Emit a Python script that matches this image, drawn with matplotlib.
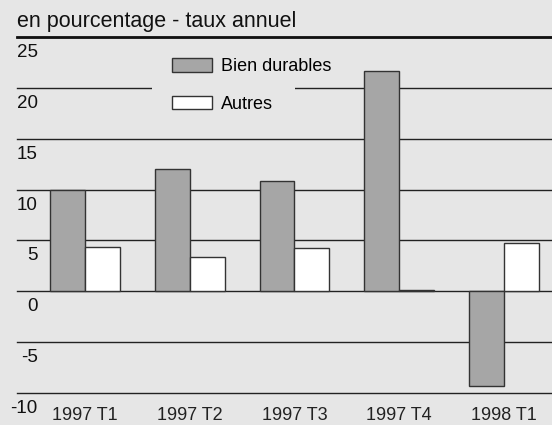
import numpy as np
import matplotlib.pyplot as plt
from matplotlib.patches import Rectangle
from matplotlib.transforms import offset_copy

plt.rcParams['font.family'] = ['Liberation Sans', 'DejaVu Sans']

# data
quarters = ['1997 T1', '1997 T2', '1997 T3', '1997 T4', '1998 T1']
durables = [10.0, 12.0, 10.8, 21.7, -9.3]
autres = [4.4, 3.4, 4.3, 0.1, 4.7]
yticks = [-10, -5, 0, 5, 10, 15, 20, 25]

bg = '#e6e6e6'
fig = plt.figure(figsize=(5.52, 4.25), dpi=100, facecolor=bg)
ax = fig.add_axes([17/552, (425-393)/425, 1-17/552, 356/425])
ax.set_facecolor(bg)

x = np.arange(len(quarters))
w = 0.333
ax.bar(x - w/2, durables, w, color='#a6a6a6', edgecolor='#333333', linewidth=1, zorder=3, label='Bien durables')
ax.bar(x + w/2, autres, w, color='white', edgecolor='#333333', linewidth=1, zorder=3, label='Autres')

ax.set_ylim(-10, 25)
ax.set_xlim(-0.65, 4.46)
for v in yticks:
    ax.axhline(v, color='#222222', linewidth=1, zorder=1, clip_on=False)

# background patch behind the legend, breaking the gridline
ax.add_patch(Rectangle((0.2523, 19), 0.2673, 2.5, transform=ax.get_yaxis_transform(),
                       facecolor=bg, edgecolor='none', zorder=2))

for s in ['left', 'right', 'bottom']:
    ax.spines[s].set_visible(False)
ax.spines['top'].set_linewidth(2)
ax.spines['top'].set_color('#111111')

ax.set_yticks(yticks)
ax.set_yticklabels([str(v) for v in yticks], fontsize=13.5, color='#111111')
ax.tick_params(axis='y', length=0, pad=-15)
for lab in ax.get_yticklabels():
    lab.set_va('top')
    lab.set_transform(offset_copy(lab.get_transform(), fig=fig, x=0, y=-7, units='dots'))

ax.set_xticks(x)
ax.set_xticklabels(quarters, fontsize=13, color='#222222')
ax.tick_params(axis='x', length=0, pad=10)

leg = ax.legend(loc='upper left', bbox_to_anchor=(0.2897, 0.94), fontsize=13,
                frameon=False, handlelength=2.2, handleheight=0.75,
                labelspacing=1.15, borderpad=0, handletextpad=0.5, borderaxespad=0)
leg.set_zorder(5)

fig.text(17/552, 1-27/425, 'en pourcentage - taux annuel', fontsize=15.5,
         color='#111111', va='baseline', ha='left')

fig.savefig('out.png', dpi=100, facecolor=bg)
